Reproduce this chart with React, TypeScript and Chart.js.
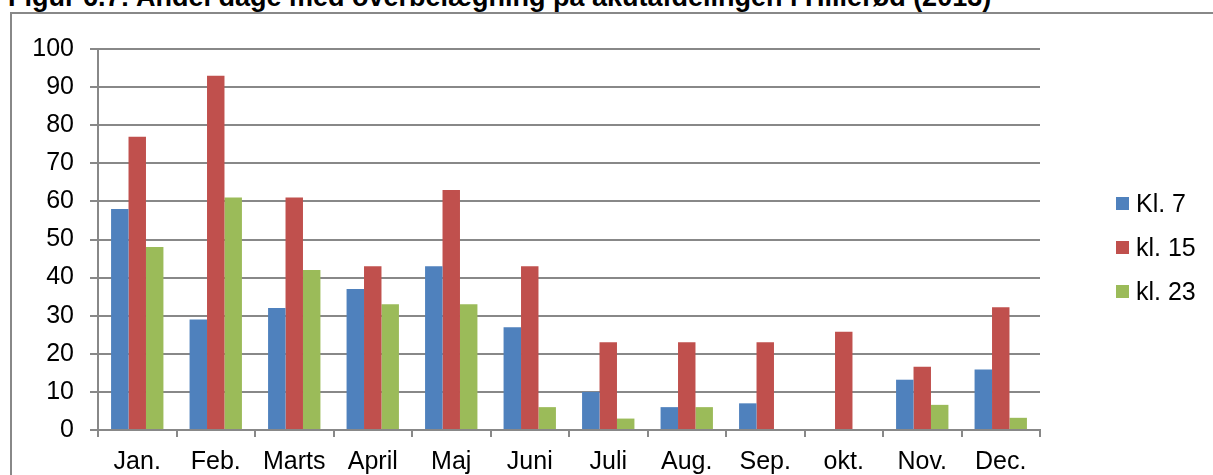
import React, { useEffect, useRef } from "react";
import { Chart, registerables } from "chart.js";

Chart.register(...registerables);

const months = ["Jan.", "Feb.", "Marts", "April", "Maj", "Juni", "Juli", "Aug.", "Sep.", "okt.", "Nov.", "Dec."];
const kl7 = [58, 29, 32, 37, 43, 27, 10, 6, 7, 0, 13.2, 15.9];
const kl15 = [77, 93, 61, 43, 63, 43, 23, 23, 23, 25.8, 16.6, 32.2];
const kl23 = [48, 61, 42, 33, 33, 6, 3, 6, 0, 0, 6.6, 3.2];
const seriesNames = ["Kl. 7", "kl. 15", "kl. 23"];
const seriesColors = ["#4F81BD", "#C0504D", "#9BBB59"];
const yTicks = [0, 10, 20, 30, 40, 50, 60, 70, 80, 90, 100];
const title = "Figur 6.7: Andel dage med overbelægning på akutafdelingen i Hillerød (2013)";

const FONT = "'Liberation Sans', Arial, sans-serif";

export default function App() {
  const ref = useRef<HTMLCanvasElement | null>(null);

  useEffect(() => {
    if (!ref.current) return;
    const values = [kl7, kl15, kl23];
    const chart = new Chart(ref.current, {
      type: "bar",
      data: {
        labels: months,
        datasets: values.map((v, i) => ({
          label: seriesNames[i],
          data: v,
          backgroundColor: seriesColors[i],
          borderWidth: 0,
          categoryPercentage: 0.667,
          barPercentage: 1.0,
        })),
      },
      options: {
        responsive: false,
        animation: false,
        devicePixelRatio: 1,
        layout: { padding: { left: 0, top: 49, right: 173, bottom: 0 } },
        plugins: {
          legend: { display: false },
          tooltip: { enabled: false },
          title: { display: false },
        },
        scales: {
          x: {
            offset: true,
            grid: {
              offset: true,
              drawOnChartArea: false,
              drawTicks: true,
              tickLength: 7,
              color: "#888888",
              lineWidth: 2,
            },
            border: { display: true, color: "#888888", width: 2 },
            ticks: {
              color: "#000000",
              font: { family: FONT, size: 25 },
              padding: 10,
              maxRotation: 0,
              autoSkip: false,
            },
            afterFit: (s: any) => {
              s.height = 45;
            },
          },
          y: {
            min: 0,
            max: 100,
            afterBuildTicks: (s: any) => {
              s.ticks = yTicks.map((v) => ({ value: v }));
            },
            grid: {
              color: "#888888",
              lineWidth: 2,
              drawTicks: true,
              tickLength: 8,
            },
            border: { display: true, color: "#888888", width: 2 },
            ticks: {
              color: "#000000",
              font: { family: FONT, size: 25 },
              padding: 16,
            },
            afterFit: (s: any) => {
              s.width = 98;
            },
          },
        },
      },
    });
    return () => chart.destroy();
  }, []);

  return (
    <div
      style={{
        position: "fixed",
        left: 0,
        top: 0,
        width: 1213,
        height: 475,
        overflow: "hidden",
        background: "#ffffff",
      }}
    >
      <div
        style={{
          position: "absolute",
          left: 8,
          top: -18,
          fontFamily: FONT,
          fontWeight: "bold",
          fontSize: 27,
          whiteSpace: "nowrap",
          color: "#000",
          lineHeight: "normal",
        }}
      >
        {title}
      </div>
      <div
        style={{
          position: "absolute",
          left: 10,
          top: 12,
          width: 1260,
          height: 520,
          border: "2px solid #888888",
          boxSizing: "border-box",
        }}
      />
      <canvas
        ref={ref}
        width={1213}
        height={475}
        style={{ position: "absolute", left: 0, top: 0, width: 1213, height: 475 }}
      />
      <div style={{ position: "absolute", left: 1116, top: 181, fontFamily: FONT, fontSize: 25, color: "#000" }}>
        {seriesNames.map((n, i) => (
          <div key={n} style={{ display: "flex", alignItems: "center", height: 44 }}>
            <span
              style={{
                display: "inline-block",
                width: 13,
                height: 13,
                background: seriesColors[i],
                marginRight: 7,
              }}
            />
            <span>{n}</span>
          </div>
        ))}
      </div>
    </div>
  );
}
